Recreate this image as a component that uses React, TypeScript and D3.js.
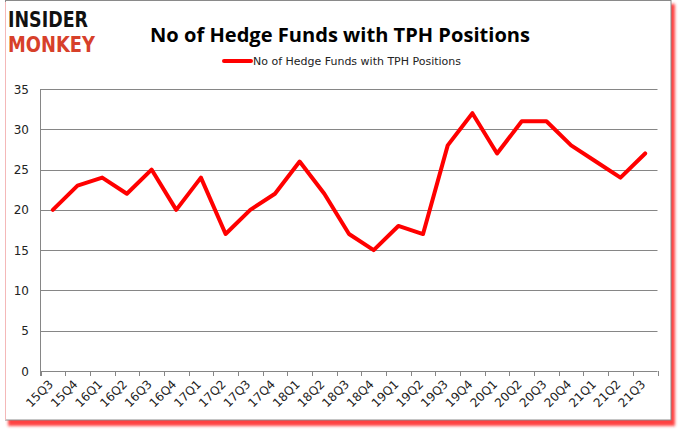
import React from "react";
import * as d3 from "d3";

const categories = ["15Q3","15Q4","16Q1","16Q2","16Q3","16Q4","17Q1","17Q2","17Q3","17Q4","18Q1","18Q2","18Q3","18Q4","19Q1","19Q2","19Q3","19Q4","20Q1","20Q2","20Q3","20Q4","21Q1","21Q2","21Q3"];
const hedgeFunds = [20,23,24,22,25,20,24,17,20,22,26,22,17,15,18,17,28,32,27,31,31,28,26,24,27];
const yTicks = [0,5,10,15,20,25,30,35];
const title = "No of Hedge Funds with TPH Positions";
const seriesName = "No of Hedge Funds with TPH Positions";

export default function App() {
  const W = 678, H = 431;
  const left = 40.5, right = 657.5, top = 89, bottom = 371;
  const x = d3.scaleBand<string>().domain(categories).range([left, right]);
  const y = d3.scaleLinear().domain([0, 35]).range([bottom, top]);
  const line = d3.line<number>()
    .x((_, i) => (x(categories[i]) as number) + x.bandwidth() / 2)
    .y(d => y(d));
  const tickFont = "Tahoma, 'DejaVu Sans', sans-serif";
  const boundaries = categories.map(c => x(c) as number).concat([right]);
  return (
    <svg width={W} height={H} style={{ position: "absolute", left: 0, top: 0, display: "block" }}>
      <defs>
        <filter id="blur" x="-5%" y="-5%" width="110%" height="110%">
          <feGaussianBlur stdDeviation="1.5" />
        </filter>
      </defs>
      <rect x={0} y={0} width={W} height={H} fill="#fff" />
      <rect x={8} y={4} width={667} height={422} fill="#ff2020" opacity={0.85} filter="url(#blur)" />
      <rect x={5.5} y={0.5} width={665.5} height={419.5} fill="#fff" stroke="#8a8a8a" strokeWidth={1} />
      <line x1={5.5} y1={2} x2={5.5} y2={420} stroke="#f4b8b8" strokeWidth={1} />
      {/* logo */}
      <g transform="translate(8,27) scale(1,1.2)">
        <text x={0} y={0} fontFamily="'DejaVu Sans', sans-serif" fontWeight={900} fontSize={18} fill="#111" textLength={80} lengthAdjust="spacingAndGlyphs">INSIDER</text>
      </g>
      <g transform="translate(8,52) scale(1,1.2)">
        <text x={0} y={0} fontFamily="'DejaVu Sans', sans-serif" fontWeight={900} fontSize={18} fill="#d7402a" textLength={87} lengthAdjust="spacingAndGlyphs">MONKEY</text>
      </g>
      {/* title */}
      <text x={340} y={42} textAnchor="middle" fontFamily="'Open Sans', 'Liberation Sans', sans-serif" fontWeight={700} fontSize={19} fill="#000" textLength={380} lengthAdjust="spacingAndGlyphs">{title}</text>
      {/* legend */}
      <line x1={224} y1={61} x2={251} y2={61} stroke="#ff0000" strokeWidth={4} strokeLinecap="round" />
      <text x={253} y={65} fontFamily={tickFont} fontSize={11} fill="#222" textLength={208} lengthAdjust="spacingAndGlyphs">{seriesName}</text>
      {/* gridlines */}
      {yTicks.map(t => (
        <line key={t} x1={left} x2={right} y1={Math.round(y(t)) + 0.5} y2={Math.round(y(t)) + 0.5} stroke="#868686" strokeWidth={1} />
      ))}
      {/* y axis */}
      <line x1={left} x2={left} y1={top} y2={bottom + 5} stroke="#868686" strokeWidth={1} />
      {yTicks.map(t => (
        <text key={t} x={29} y={y(t) + 4.5} textAnchor="end" fontFamily={tickFont} fontSize={12} fill="#222">{t}</text>
      ))}
      {/* x ticks */}
      {boundaries.map((b, i) => (
        <line key={i} x1={Math.round(b) + 0.5} x2={Math.round(b) + 0.5} y1={bottom} y2={bottom + 5} stroke="#868686" strokeWidth={1} />
      ))}
      {categories.map(c => {
        const cx = (x(c) as number) + x.bandwidth() / 2 + 1;
        const cy = bottom + 14;
        return (
          <text key={c} x={cx} y={cy} textAnchor="end" fontFamily={tickFont} fontSize={12} fill="#222" transform={`rotate(-45 ${cx} ${cy})`}>{c}</text>
        );
      })}
      {/* series */}
      <path d={line(hedgeFunds) || ""} fill="none" stroke="#ff0000" strokeWidth={4} strokeLinejoin="round" strokeLinecap="round" />
    </svg>
  );
}
